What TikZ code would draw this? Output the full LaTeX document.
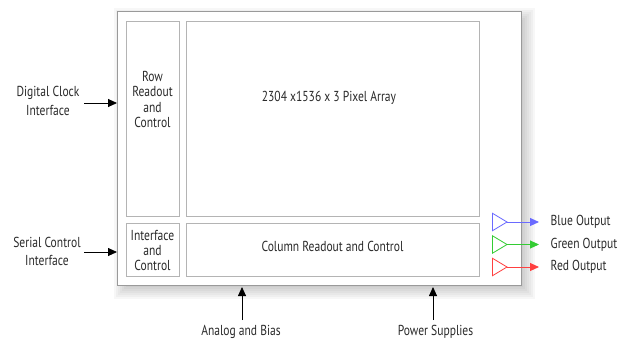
\documentclass[tikz,border=0pt]{standalone}
\usepackage{fontspec}
\setmainfont{PT Sans}[FakeStretch=0.8]
\usetikzlibrary{arrows.meta}
\definecolor{txt}{HTML}{2A2A2A}
\definecolor{outerc}{HTML}{9A9A9A}
\definecolor{innerc}{HTML}{B4B4B4}
\definecolor{bluec}{HTML}{6A6AFF}
\definecolor{greenc}{HTML}{33CC33}
\definecolor{redc}{HTML}{FF4040}
\tikzset{
  lbl/.style={text=txt, font=\fontsize{14.5}{15.6}\selectfont, align=center, inner sep=0pt},
  extlbl/.style={text=txt, font=\fontsize{14.5}{18.7}\selectfont, align=center, inner sep=0pt},
  outlbl/.style={text=txt, font=\fontsize{14.5}{15.6}\selectfont, anchor=west, inner sep=0pt},
  blk/.style={draw=innerc, line width=1bp, fill=white},
  arr/.style={-{Triangle[length=9bp,width=8bp]}, line width=0.9bp, black},
  outarr/.style={-{Triangle[length=9bp,width=8bp]}, line width=0.9bp},
  buf/.style={line width=0.8bp, fill=white},
}
\begin{document}
\begin{tikzpicture}[x=1bp,y=-1bp]
\useasboundingbox (0,0) rectangle (623,341);
% shadow
\foreach \k in {-8,-6,...,8}
  \fill[black,opacity=0.03] (122-\k,16-\k) rectangle (527+\k,291+\k);
% outer box
\draw[draw=outerc, line width=1bp, fill=white] (117,11) coordinate (oNW) rectangle (521.5,285.5) coordinate (oSE);
% inner blocks
\draw[blk] (126,21) rectangle (179,216);
\draw[blk] (186,21) rectangle (479,216);
\draw[blk] (126,223.5) rectangle (179,276.5);
\draw[blk] (186,223.5) rectangle (479,276.5);
\node[lbl] (row) at (152.5,99.5) {Row\\Readout\\and\\Control};
\node[lbl] (pix) at (329,98) {2304 x1536 x 3 Pixel Array};
\node[lbl, font=\fontsize{14.5}{14.6}\selectfont] (ifc) at (152.5,250.5) {Interface\\and\\Control};
\node[lbl] (col) at (332.5,246.5) {Column Readout and Control};
% left labels
\node[extlbl] (dci) at (48,101) {Digital Clock\\Interface};
\node[extlbl] (sci) at (47,251.5) {Serial Control\\Interface};
\coordinate (dcs) at (84,103);
\coordinate (dce) at (117,103);
\coordinate (scs) at (84,252);
\coordinate (sce) at (117,252);
\draw[arr] (dcs) -- (dce);
\draw[arr] (scs) -- (sce);
% bottom labels
\node[lbl] (ab) at (241,332) {Analog and Bias};
\node[lbl] (ps) at (435.5,332) {Power Supplies};
\coordinate (abs) at (242,320);
\coordinate (abe) at (242,287);
\coordinate (pss) at (433,320);
\coordinate (pse) at (433,287);
\draw[arr] (abs) -- (abe);
\draw[arr] (pss) -- (pse);
% outputs
\node[outlbl] (bo) at (550.5,222) {Blue Output};
\node[outlbl] (go) at (550.5,244.5) {Green Output};
\node[outlbl] (ro) at (550.5,267) {Red Output};
\draw[buf, draw=bluec] (492.5,213.3) -- (507,222) coordinate (bt) -- (492.5,230.7) -- cycle;
\draw[buf, draw=greenc] (492.5,235.8) -- (507,244.5) coordinate (gt) -- (492.5,253.2) -- cycle;
\draw[buf, draw=redc] (492.5,258.3) -- (507,267) coordinate (rt) -- (492.5,275.7) -- cycle;
\draw[outarr, bluec] (bt) -- (bt -| 539,0);
\draw[outarr, greenc] (gt) -- (gt -| 539,0);
\draw[outarr, redc] (rt) -- (rt -| 539,0);
\end{tikzpicture}
\end{document}
